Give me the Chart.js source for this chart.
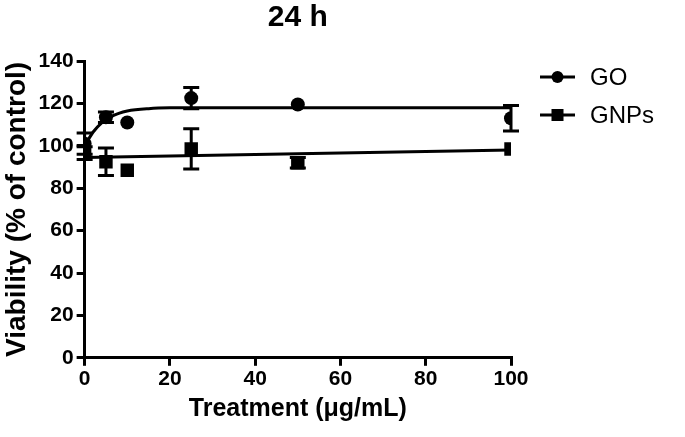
<!DOCTYPE html>
<html>
<head>
<meta charset="utf-8">
<script src="https://cdn.jsdelivr.net/npm/chart.js@4"></script>
<style>
  html, body { margin: 0; padding: 0; background: #fff; }
  #wrap { width: 685px; height: 437px; }
</style>
</head>
<body>
<div id="wrap"><canvas id="viabilityChart" width="685" height="437"></canvas></div>
<script>
// Treatment doses (µg/mL)
const doses = [0, 5, 10, 25, 50, 100];

// Mean viability (% of control) and error (±)
const goMean = [101, 113.5, 111, 122.5, 119.5, 113];
const goErr = [5, 2.5, 0, 5, 0, 6];
const gnpMean = [96.5, 92.5, 88.5, 98.5, 92, 98.5];
const gnpErr = [3, 6.5, 0, 9.5, 2.5, 0];

// Fitted curves
const goFitX = [0, 2, 4, 6, 8, 10, 15, 20, 30, 50, 100];
const goFitY = [100, 106.5, 110.8, 113.5, 115.3, 116.4, 117.5, 117.9, 118, 118, 118];
const gnpFitX = [0, 50, 100];
const gnpFitY = [94.5, 96.2, 98];

// Axis ticks
const xTicks = [0, 20, 40, 60, 80, 100];
const yTicks = [0, 20, 40, 60, 80, 100, 120, 140];

const seriesNames = ['GO', 'GNPs'];

const FONT = "'Liberation Sans', Arial, sans-serif";

function toPoints(xs, ys) {
    return xs.map((x, i) => ({ x: x, y: ys[i] }));
}

// Draws vertical error bars with caps using the chart scales
const errorBars = {
    id: 'errorBars',
    afterDatasetsDraw(chart) {
        const ctx = chart.ctx;
        const xs = chart.scales.x, ys = chart.scales.y;
        chart.data.datasets.forEach(ds => {
            if (!ds.errors) return;
            ctx.save();
            ctx.strokeStyle = '#000';
            ctx.lineWidth = 3;
            ds.data.forEach((p, i) => {
                const e = ds.errors[i];
                if (!e) return;
                const px = xs.getPixelForValue(p.x);
                const top = ys.getPixelForValue(p.y + e);
                const bot = ys.getPixelForValue(p.y - e);
                ctx.beginPath();
                ctx.moveTo(px, top); ctx.lineTo(px, bot);
                ctx.moveTo(px - 8, top); ctx.lineTo(px + 8, top);
                ctx.moveTo(px - 8, bot); ctx.lineTo(px + 8, bot);
                ctx.stroke();
            });
            ctx.restore();
        });
    }
};

// Legend to the right: line through marker, then label
const sideLegend = {
    id: 'sideLegend',
    afterDraw(chart) {
        const ctx = chart.ctx;
        const styles = ['circle', 'rect'];
        ctx.save();
        seriesNames.forEach((name, i) => {
            const cy = 77 + i * 38;
            const x0 = 540, x1 = 575;
            ctx.strokeStyle = '#000';
            ctx.fillStyle = '#000';
            ctx.lineWidth = 3;
            ctx.beginPath();
            ctx.moveTo(x0, cy); ctx.lineTo(x1, cy);
            ctx.stroke();
            const cx = (x0 + x1) / 2;
            if (styles[i] === 'circle') {
                ctx.beginPath();
                ctx.arc(cx, cy, 6, 0, Math.PI * 2);
                ctx.fill();
            } else {
                ctx.fillRect(cx - 6, cy - 6, 12, 12);
            }
            ctx.font = '24px ' + FONT;
            ctx.textBaseline = 'middle';
            ctx.fillText(name, 590, cy + 1);
        });
        ctx.restore();
    }
};

const ctx = document.getElementById('viabilityChart').getContext('2d');
new Chart(ctx, {
    type: 'scatter',
    data: {
        datasets: [
            {
                label: 'GO fit',
                data: toPoints(goFitX, goFitY),
                showLine: true,
                borderColor: '#000',
                borderWidth: 3,
                pointRadius: 0,
                cubicInterpolationMode: 'monotone'
            },
            {
                label: 'GNPs fit',
                data: toPoints(gnpFitX, gnpFitY),
                showLine: true,
                borderColor: '#000',
                borderWidth: 3,
                pointRadius: 0
            },
            {
                label: seriesNames[0],
                data: toPoints(doses, goMean),
                errors: goErr,
                pointStyle: 'circle',
                pointRadius: 7,
                backgroundColor: '#000',
                borderColor: '#000',
                borderWidth: 0
            },
            {
                label: seriesNames[1],
                data: toPoints(doses, gnpMean),
                errors: gnpErr,
                pointStyle: 'rect',
                pointRadius: 9.5,
                backgroundColor: '#000',
                borderColor: '#000',
                borderWidth: 0
            }
        ]
    },
    options: {
        responsive: false,
        animation: false,
        layout: { padding: { left: 0, right: 174, top: 0, bottom: 13 } },
        plugins: {
            legend: { display: false },
            tooltip: { enabled: false },
            title: {
                display: true,
                text: '24 h',
                fullSize: false,
                color: '#000',
                font: { family: FONT, size: 30, weight: 'bold' },
                padding: { top: 0, bottom: 25 }
            }
        },
        scales: {
            x: {
                type: 'linear',
                min: 0,
                max: 100,
                afterBuildTicks: axis => { axis.ticks = xTicks.map(v => ({ value: v })); },
                border: { display: true, color: '#000', width: 3 },
                grid: { display: true, drawOnChartArea: false, drawTicks: true, tickLength: 8, color: '#000', lineWidth: 3 },
                ticks: { color: '#000', padding: 1, maxRotation: 0, font: { family: FONT, size: 21, weight: 'bold' } },
                title: {
                    display: true,
                    text: 'Treatment (μg/mL)',
                    color: '#000',
                    font: { family: FONT, size: 25, weight: 'bold' },
                    padding: { top: 1, bottom: 0 }
                }
            },
            y: {
                type: 'linear',
                min: 0,
                max: 140,
                afterBuildTicks: axis => { axis.ticks = yTicks.map(v => ({ value: v })); },
                border: { display: true, color: '#000', width: 3 },
                grid: { display: true, drawOnChartArea: false, drawTicks: true, tickLength: 8, color: '#000', lineWidth: 3 },
                ticks: { color: '#000', padding: 3, font: { family: FONT, size: 21, weight: 'bold' } },
                title: {
                    display: true,
                    text: 'Viability (% of control)',
                    color: '#000',
                    font: { family: FONT, size: 28, weight: 'bold' },
                    padding: { top: 0, bottom: 2 }
                }
            }
        }
    },
    plugins: [errorBars, sideLegend]
});
</script>
</body>
</html>
